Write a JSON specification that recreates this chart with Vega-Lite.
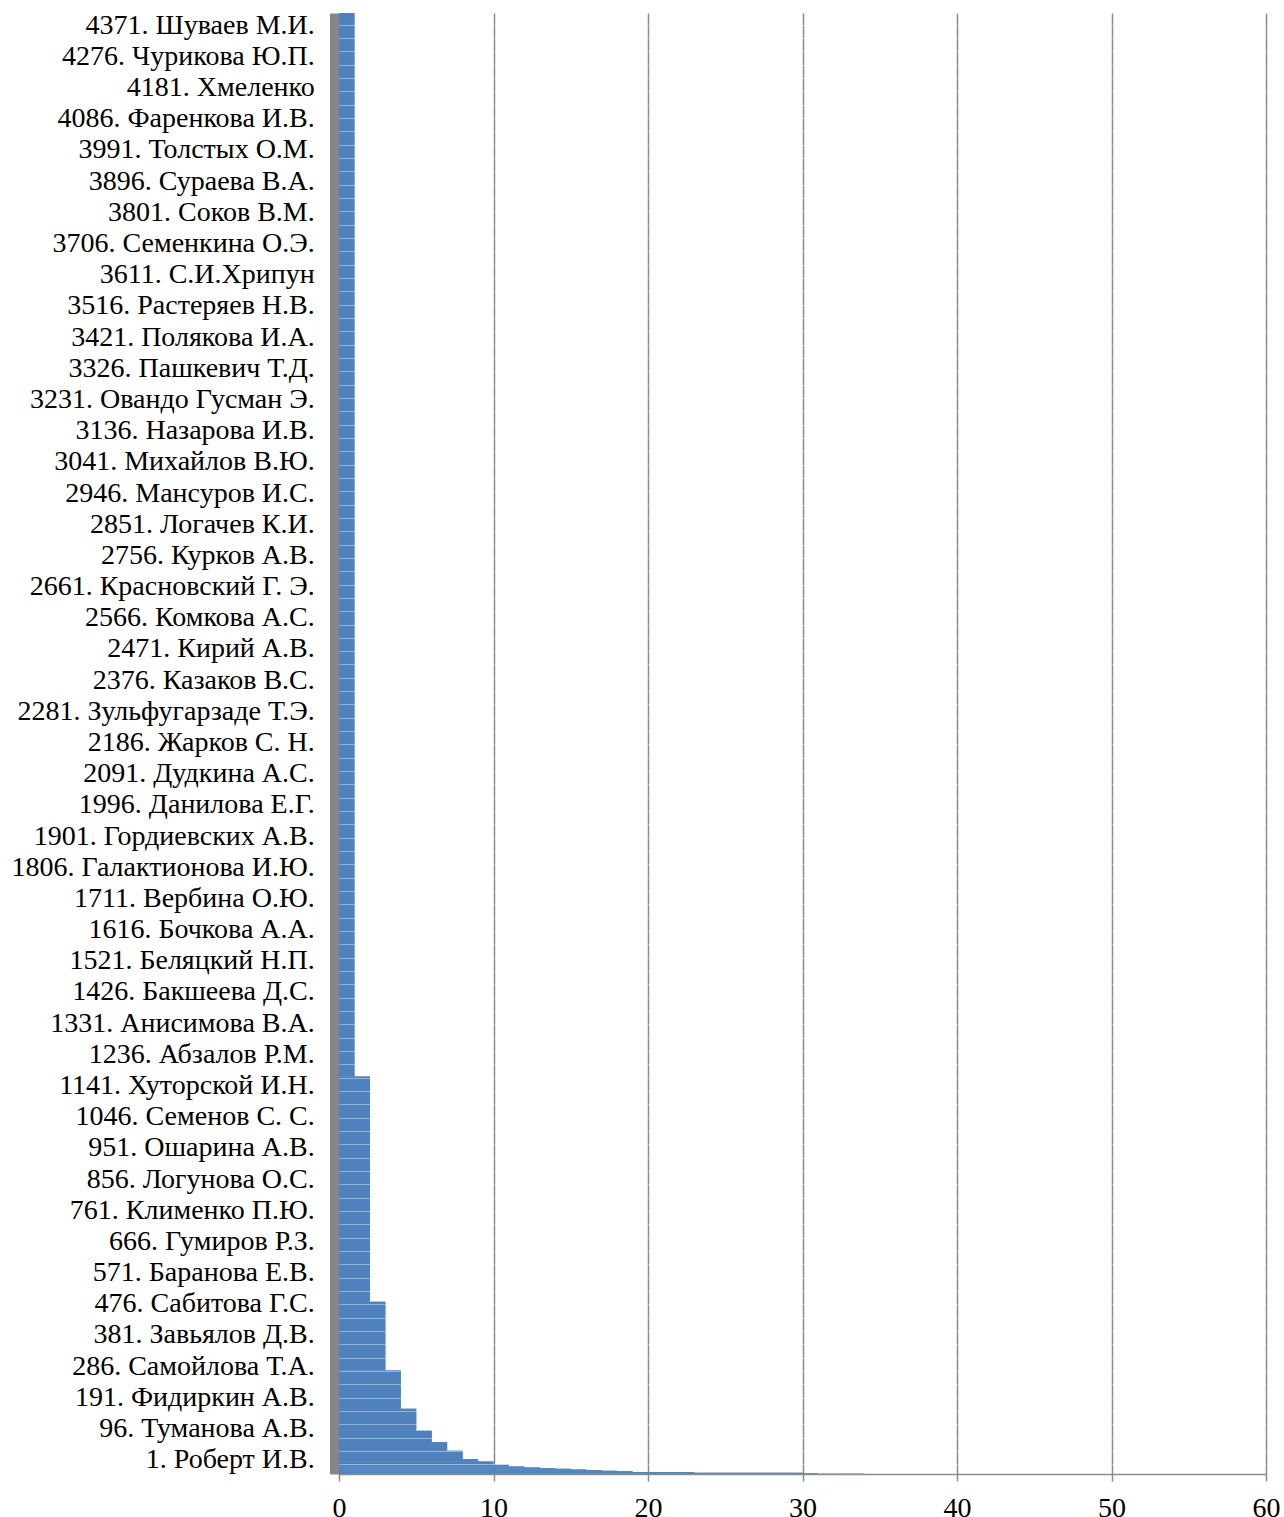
{
  "$schema": "https://vega.github.io/schema/vega-lite/v6.json",
  "width": 927,
  "height": 1461,
  "autosize": "none",
  "padding": {"left": 339, "top": 13, "right": 18, "bottom": 43},
  "background": "white",
  "config": {
    "view": {"stroke": null},
    "axis": {"labelFont": "Liberation Serif", "labelFontSize": 28, "labelColor": "#000000", "labelLimit": 0, "title": null}
  },
  "data": {
    "values": [
      {"start": 0, "end": 1, "value": 34},
      {"start": 1, "end": 2, "value": 31},
      {"start": 2, "end": 4, "value": 30},
      {"start": 4, "end": 6, "value": 23},
      {"start": 6, "end": 8, "value": 19},
      {"start": 8, "end": 10, "value": 18},
      {"start": 10, "end": 12, "value": 17},
      {"start": 12, "end": 14, "value": 16},
      {"start": 14, "end": 16, "value": 15},
      {"start": 16, "end": 18, "value": 14},
      {"start": 18, "end": 20, "value": 13},
      {"start": 20, "end": 23, "value": 12},
      {"start": 23, "end": 28, "value": 11},
      {"start": 28, "end": 38, "value": 10},
      {"start": 38, "end": 46, "value": 9},
      {"start": 46, "end": 71, "value": 8},
      {"start": 71, "end": 97, "value": 7},
      {"start": 97, "end": 132, "value": 6},
      {"start": 132, "end": 199, "value": 5},
      {"start": 199, "end": 315, "value": 4},
      {"start": 315, "end": 525, "value": 3},
      {"start": 525, "end": 1211, "value": 2},
      {"start": 1211, "end": 4451, "value": 1}
    ]
  },
  "encoding": {
    "x": {
      "field": "value",
      "type": "quantitative",
      "scale": {"domain": [0, 60], "nice": false, "zero": true},
      "axis": {
        "values": [0, 10, 20, 30, 40, 50, 60],
        "grid": true,
        "gridColor": "#8c8c8c",
        "gridWidth": 1.5,
        "domain": true,
        "domainColor": "#8c8c8c",
        "domainWidth": 1.5,
        "ticks": true,
        "tickColor": "#8c8c8c",
        "tickSize": 7,
        "tickWidth": 1.5,
        "labelPadding": 13,
        "labelFlush": false,
        "labelOverlap": false,
        "labelBound": false
      }
    },
    "x2": {"datum": 0}
  },
  "layer": [
    {
      "mark": {"type": "rect", "color": "#4f81bd"},
      "encoding": {
        "y": {
          "field": "start",
          "type": "quantitative",
          "scale": {"domain": [0, 4451], "nice": false, "zero": false},
          "axis": {
            "orient": "left",
            "values": [1, 96, 191, 286, 381, 476, 571, 666, 761, 856, 951, 1046, 1141, 1236, 1331, 1426, 1521, 1616, 1711, 1806, 1901, 1996, 2091, 2186, 2281, 2376, 2471, 2566, 2661, 2756, 2851, 2946, 3041, 3136, 3231, 3326, 3421, 3516, 3611, 3706, 3801, 3896, 3991, 4086, 4181, 4276, 4371],
            "labelExpr": "['1. Роберт И.В.', '96. Туманова А.В.', '191. Фидиркин А.В.', '286. Самойлова Т.А.', '381. Завьялов Д.В.', '476. Сабитова Г.С.', '571. Баранова Е.В.', '666. Гумиров Р.З.', '761. Клименко П.Ю.', '856. Логунова О.С.', '951. Ошарина А.В.', '1046. Семенов С. С.', '1141. Хуторской И.Н.', '1236. Абзалов Р.М.', '1331. Анисимова В.А.', '1426. Бакшеева Д.С.', '1521. Беляцкий Н.П.', '1616. Бочкова А.А.', '1711. Вербина О.Ю.', '1806. Галактионова И.Ю.', '1901. Гордиевских А.В.', '1996. Данилова Е.Г.', '2091. Дудкина А.С.', '2186. Жарков С. Н.', '2281. Зульфугарзаде Т.Э.', '2376. Казаков В.С.', '2471. Кирий А.В.', '2566. Комкова А.С.', '2661. Красновский Г. Э.', '2756. Курков А.В.', '2851. Логачев К.И.', '2946. Мансуров И.С.', '3041. Михайлов В.Ю.', '3136. Назарова И.В.', '3231. Овандо Гусман Э.', '3326. Пашкевич Т.Д.', '3421. Полякова И.А.', '3516. Растеряев Н.В.', '3611. С.И.Хрипун', '3706. Семенкина О.Э.', '3801. Соков В.М.', '3896. Сураева В.А.', '3991. Толстых О.М.', '4086. Фаренкова И.В.', '4181. Хмеленко', '4276. Чурикова Ю.П.', '4371. Шуваев М.И.'][round((datum.value - 1) / 95)]",
            "grid": false,
            "ticks": false,
            "domain": true,
            "domainColor": "#868686",
            "domainWidth": 9.5,
            "offset": 4.75,
            "labelPadding": 20,
            "labelOffset": -14,
            "labelOverlap": false,
            "labelBound": false
          }
        },
        "y2": {"field": "end"}
      }
    },
    {
      "mark": {"type": "rect", "color": "#4f81bd"},
      "encoding": {
        "y": {
          "field": "start",
          "type": "quantitative",
          "scale": {"domain": [0, 4451], "nice": false, "zero": false},
          "axis": {
            "orient": "left",
            "values": [29.6, 70.2, 110.8, 151.4, 192.0, 232.7, 273.3, 313.9, 354.5, 395.1, 435.7, 476.3, 516.9, 557.5, 598.1, 638.8, 679.4, 720.0, 760.6, 801.2, 841.8, 882.4, 923.0, 963.6, 1004.2, 1044.9, 1085.5, 1126.1, 1166.7, 1207.3, 1247.9, 1288.5, 1329.1, 1369.7, 1410.3, 1451.0, 1491.6, 1532.2, 1572.8, 1613.4, 1654.0, 1694.6, 1735.2, 1775.8, 1816.4, 1857.1, 1897.7, 1938.3, 1978.9, 2019.5, 2060.1, 2100.7, 2141.3, 2181.9, 2222.5, 2263.2, 2303.8, 2344.4, 2385.0, 2425.6, 2466.2, 2506.8, 2547.4, 2588.0, 2628.6, 2669.3, 2709.9, 2750.5, 2791.1, 2831.7, 2872.3, 2912.9, 2953.5, 2994.1, 3034.7, 3075.4, 3116.0, 3156.6, 3197.2, 3237.8, 3278.4, 3319.0, 3359.6, 3400.2, 3440.8, 3481.5, 3522.1, 3562.7, 3603.3, 3643.9, 3684.5, 3725.1, 3765.7, 3806.3, 3846.9, 3887.6, 3928.2, 3968.8, 4009.4, 4050.0, 4090.6, 4131.2, 4171.8, 4212.4, 4253.0, 4293.7, 4334.3, 4374.9, 4415.5],
            "grid": true,
            "gridColor": "#ffffff",
            "gridOpacity": 0.4,
            "gridWidth": 1,
            "labels": false,
            "ticks": false,
            "domain": false,
            "zindex": 1
          }
        },
        "y2": {"field": "end"}
      }
    }
  ],
  "resolve": {"axis": {"y": "independent"}}
}
